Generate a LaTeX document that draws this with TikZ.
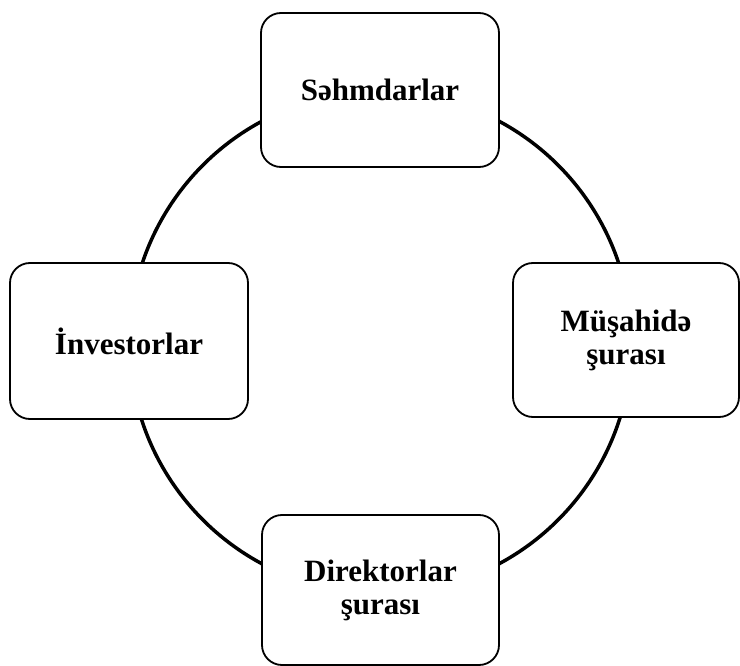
\documentclass[tikz,border=0pt]{standalone}
\usepackage{fontspec}
\setmainfont{Liberation Serif}
\begin{document}
\begin{tikzpicture}[x=1pt,y=-1pt,
  box/.style={draw=black,line width=1.8pt,rounded corners=20pt,fill=white,
    inner sep=0pt,align=center,font=\bfseries\fontsize{31}{33}\selectfont},
  ring/.style={draw=black,line width=3.5pt}]
\useasboundingbox (0,0) rectangle (740,666);
\coordinate (c) at (380.5,342.5);
\draw[ring] (c) circle (251);
\node[box,minimum width=238,minimum height=154] (sh) at (380,90) {Səhmdarlar};
\node[box,minimum width=238,minimum height=156] (inv) at (129,341) {İnvestorlar};
\node[box,minimum width=226,minimum height=154] (ms) at (626,340) {Müşahidə\\şurası};
\node[box,minimum width=237,minimum height=150] (ds) at (380.5,590) {Direktorlar\\şurası};
\end{tikzpicture}
\end{document}
